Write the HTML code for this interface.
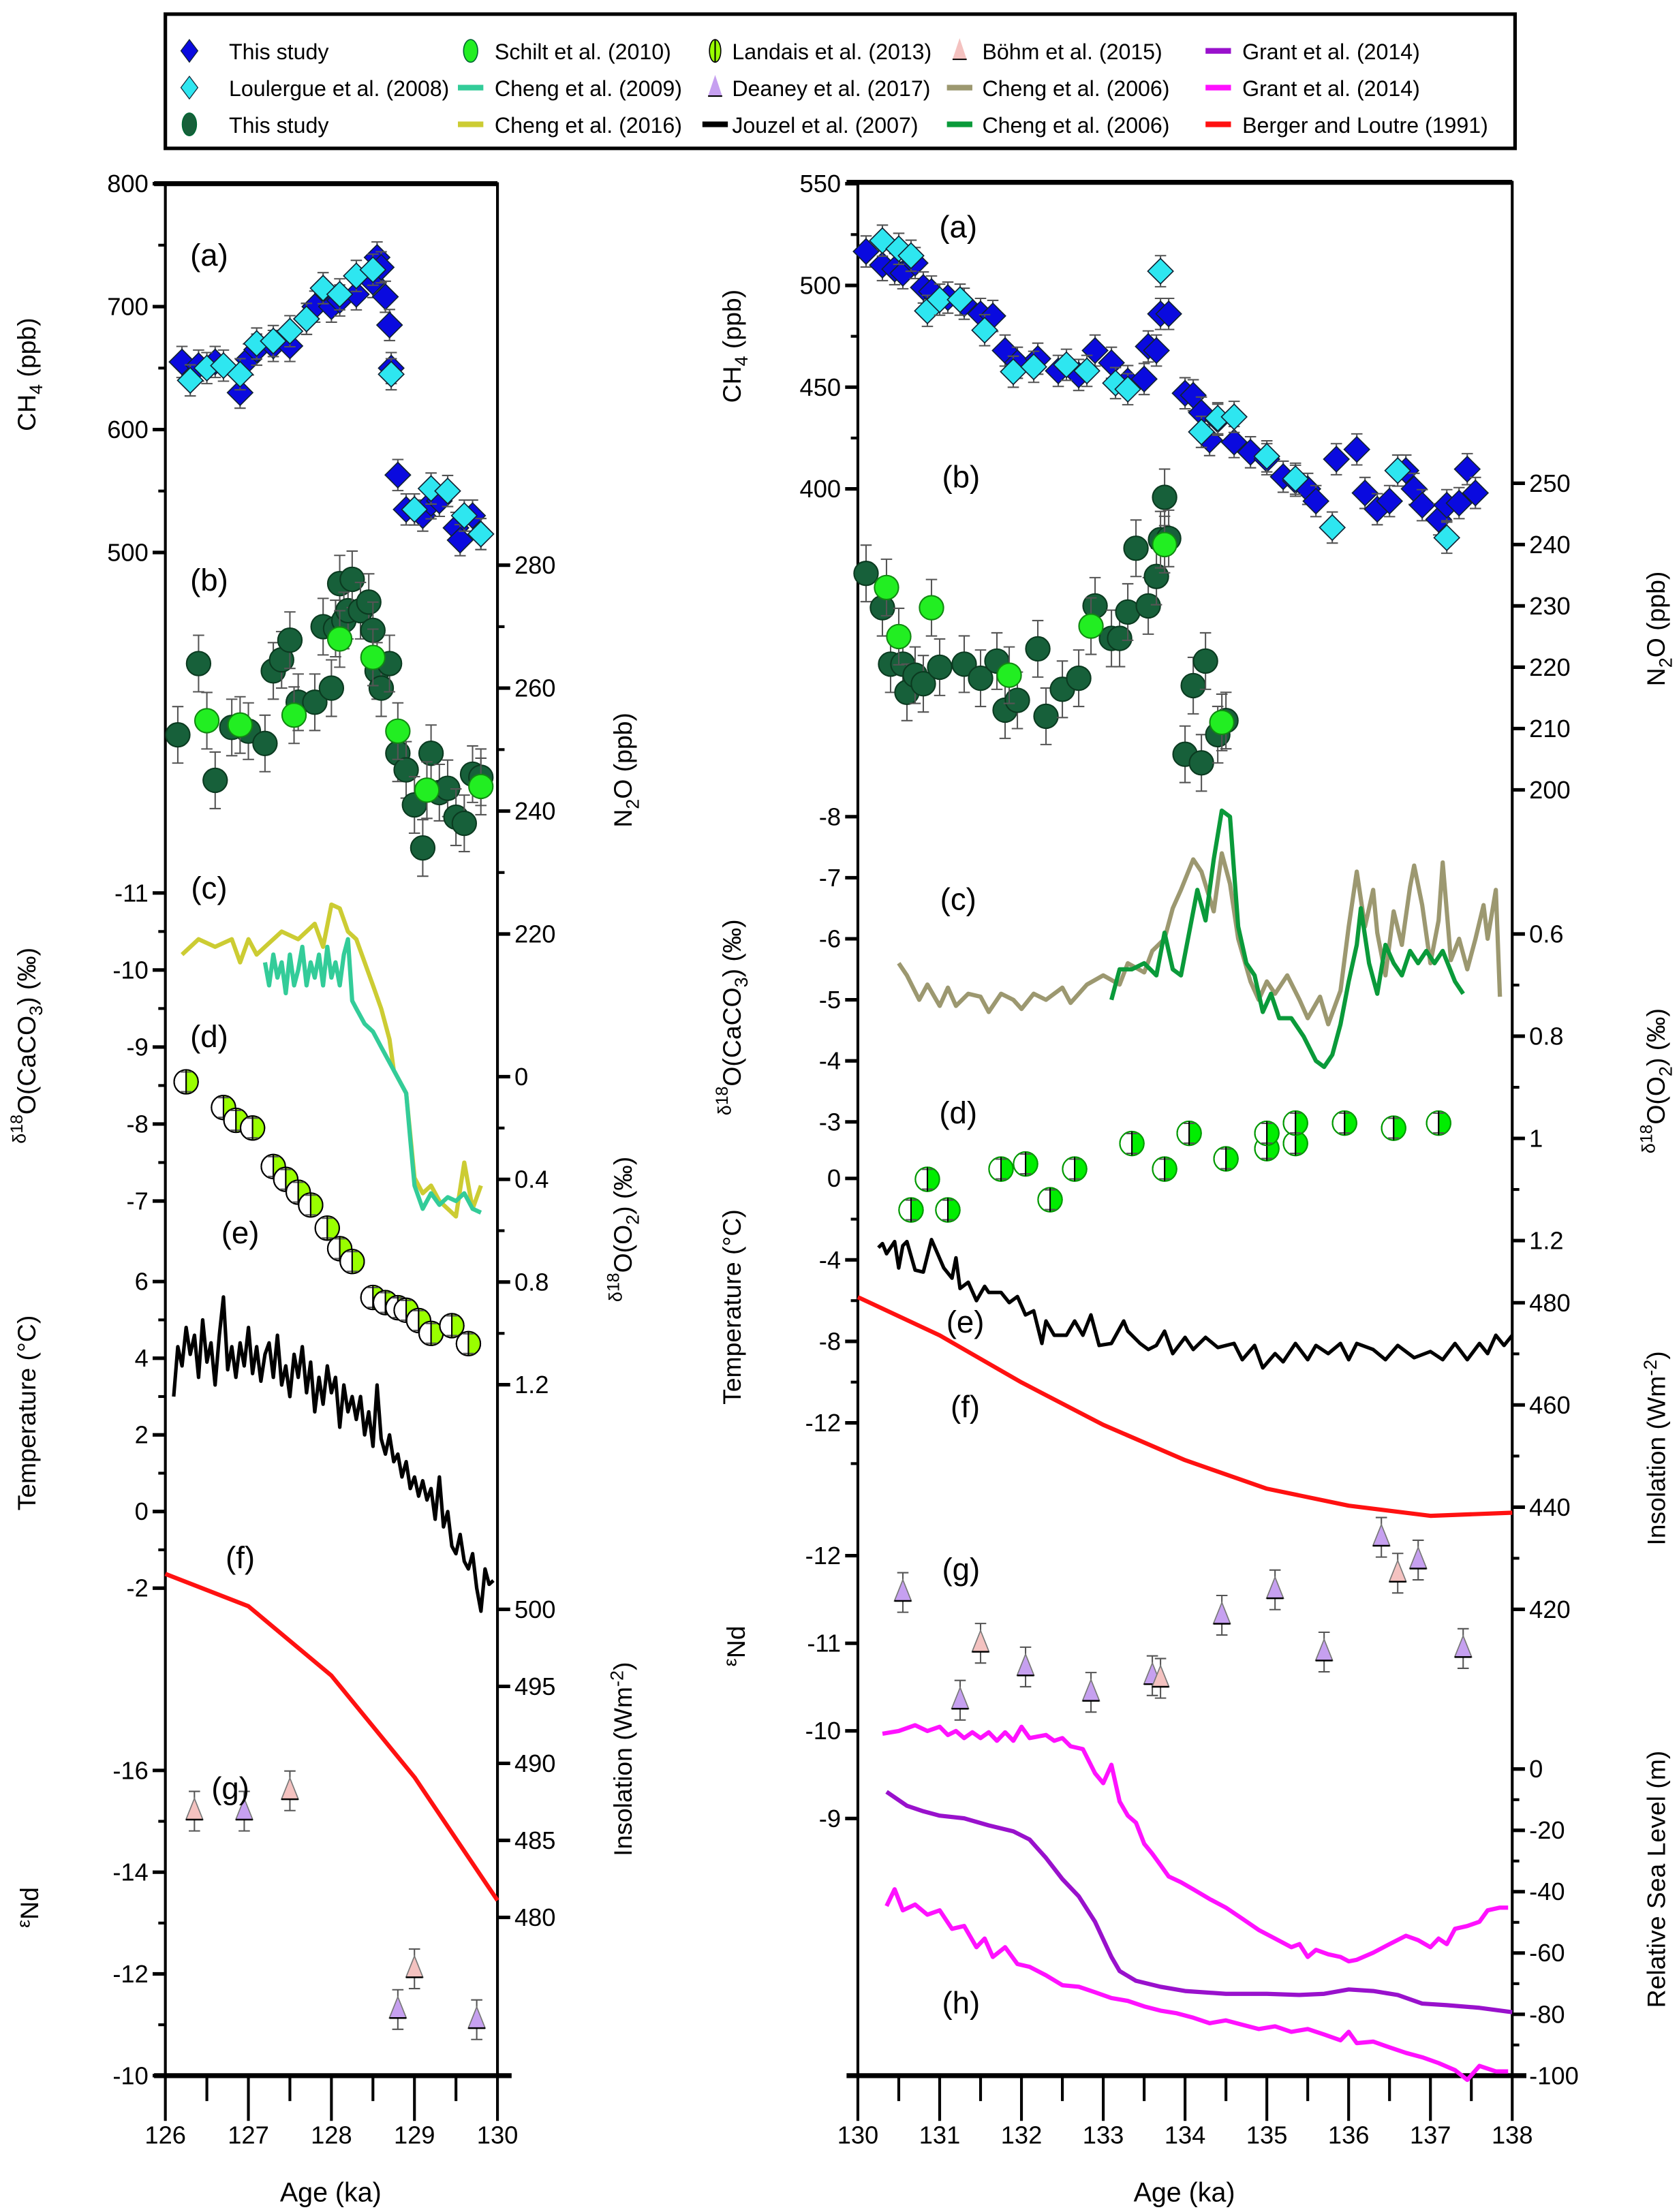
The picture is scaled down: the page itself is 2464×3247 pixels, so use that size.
<!DOCTYPE html>
<html><head><meta charset="utf-8"><title>Paleoclimate records chart</title>
<style>
html,body{margin:0;padding:0;background:#fff;}
svg{display:block;font-family:"Liberation Sans",Arial,sans-serif;}
</style></head>
<body>
<svg id="chart" xmlns="http://www.w3.org/2000/svg" width="2464" height="3247" viewBox="0 0 1188 1565.5">
<rect x="0" y="0" width="1188" height="1565.5" fill="#fff"/>
<g id="legend"></g>
<g id="frames"></g>
<g id="marks"></g>
<g id="labels"></g>
</svg>
<script>
// ===== LEFT PANEL DATA (126-130 ka) =====
const lCh4Age=[126.2,126.4,126.6,126.9,127.0,127.1,127.3,127.5,127.7,127.8,128.0,128.1,128.3,128.5,128.55,128.6,128.65,128.7,128.72,128.8,128.9,129.0,129.1,129.2,129.3,129.5,129.55,129.7,129.8];
const lCh4Val=[655,652,655,630,657,665,668,668,690,700,700,705,710,720,740,732,708,685,650,563,535,535,530,540,542,520,510,530,515];
const lLouAge=[126.3,126.5,126.7,126.9,127.1,127.3,127.5,127.7,127.9,128.1,128.3,128.5,128.72,129.0,129.2,129.4,129.6,129.8];
const lLouVal=[640,650,652,645,670,672,680,690,715,710,725,730,645,535,552,550,530,515];
const lN2oAge=[126.15,126.4,126.6,126.8,127.0,127.2,127.3,127.4,127.5,127.6,127.8,127.9,128.0,128.05,128.1,128.15,128.2,128.25,128.35,128.45,128.5,128.55,128.6,128.7,128.8,128.9,129.0,129.1,129.2,129.3,129.4,129.5,129.6,129.7,129.8];
const lN2oVal=[252.4,264,245,253.6,253,251,262.8,264.6,267.8,257.7,257.7,270,260,269.7,277,271,272.6,277.7,272.6,274,269.4,262.8,260,264,249.4,246.7,241,234,249.4,243,243.7,239,238,246,245.5];
const lSchAge=[126.5,126.9,127.55,128.1,128.5,128.8,129.15,129.8];
const lSchVal=[254.7,254,255.6,268,265,253,243.4,244];
const lC16Age=[126.2,126.4,126.6,126.8,126.9,127.0,127.1,127.2,127.4,127.6,127.8,127.9,128.0,128.1,128.2,128.3,128.5,128.6,128.7,128.75,128.9,129.0,129.1,129.2,129.3,129.5,129.6,129.7,129.8];
const lC16Val=[-10.2,-10.4,-10.3,-10.4,-10.1,-10.4,-10.2,-10.3,-10.5,-10.4,-10.6,-10.3,-10.85,-10.8,-10.5,-10.4,-9.8,-9.5,-9.1,-8.7,-8.4,-7.3,-7.1,-7.2,-7.0,-6.8,-7.5,-6.9,-7.2];
const lC09Age=[127.2,127.25,127.3,127.35,127.4,127.45,127.5,127.55,127.6,127.65,127.7,127.75,127.8,127.85,127.9,127.95,128.0,128.05,128.1,128.15,128.2,128.25,128.3,128.4,128.5,128.6,128.7,128.8,128.9,128.95,129.0,129.1,129.2,129.3,129.4,129.5,129.6,129.7,129.8];
const lC09Val=[-10.1,-9.8,-10.2,-9.9,-10.1,-9.7,-10.2,-9.8,-10.0,-10.3,-9.8,-10.1,-9.9,-10.2,-9.8,-10.3,-9.9,-10.1,-9.8,-10.2,-10.4,-9.6,-9.5,-9.3,-9.2,-9.0,-8.8,-8.6,-8.4,-7.8,-7.2,-6.9,-7.1,-6.95,-7.05,-7.0,-7.1,-6.9,-6.85];
const lLanAge=[126.25,126.7,126.85,127.05,127.3,127.45,127.6,127.75,127.95,128.1,128.25,128.5,128.65,128.8,128.9,129.05,129.2,129.45,129.65];
const lLanVal=[0.02,0.12,0.17,0.2,0.35,0.4,0.45,0.5,0.59,0.67,0.72,0.86,0.88,0.9,0.91,0.95,1.0,0.97,1.04];
const lTmpAge=[126.1,126.15,126.2,126.25,126.3,126.35,126.4,126.45,126.5,126.55,126.6,126.65,126.7,126.75,126.8,126.85,126.9,126.95,127.0,127.05,127.1,127.15,127.2,127.25,127.3,127.35,127.4,127.45,127.5,127.55,127.6,127.65,127.7,127.75,127.8,127.85,127.9,127.95,128.0,128.05,128.1,128.15,128.2,128.25,128.3,128.35,128.4,128.45,128.5,128.55,128.6,128.65,128.7,128.75,128.8,128.85,128.9,128.95,129.0,129.05,129.1,129.15,129.2,129.25,129.3,129.35,129.4,129.45,129.5,129.55,129.6,129.65,129.7,129.75,129.8,129.85,129.9,129.95];
const lTmpVal=[3.0,4.3,3.8,4.8,4.1,4.6,3.5,5.0,3.9,4.4,3.3,4.6,5.6,3.7,4.3,3.5,4.4,3.8,4.8,3.6,4.3,3.4,4.1,4.4,3.5,4.6,3.3,3.8,3.0,4.1,3.5,4.3,3.1,3.9,2.6,3.5,2.8,3.8,3.1,3.5,2.2,3.3,2.6,3.0,2.4,3.0,2.0,2.6,1.7,3.3,1.9,1.5,2.0,1.3,1.5,0.9,1.3,0.6,0.9,0.4,0.8,0.3,0.6,-0.2,0.9,-0.4,0,-0.9,-1.1,-0.6,-1.3,-1.5,-1.1,-2.0,-2.6,-1.5,-1.9,-1.8];
const lInsAge=[126,127,128,129,130];
const lInsVal=[502.3,500.2,495.7,489.1,481.1];
const lBohAge=[126.35,127.5,129.0];
const lBohVal=[-15.2,-15.6,-12.1];
const lDeaAge=[126.95,128.8,129.75];
const lDeaVal=[-15.2,-11.3,-11.1];

// ===== RIGHT PANEL DATA (130-138 ka) =====
const rCh4Age=[130.1,130.3,130.45,130.55,130.7,130.8,130.9,131.1,131.3,131.5,131.65,131.8,131.95,132.2,132.45,132.7,132.9,133.1,133.3,133.5,133.55,133.65,133.7,133.8,134.0,134.1,134.2,134.3,134.4,134.6,134.8,135.0,135.2,135.35,135.5,135.6,135.85,136.1,136.2,136.35,136.5,136.7,136.8,136.9,137.1,137.2,137.35,137.45,137.55];
const rCh4Val=[516.7,510,508,506,511,499,497,494,491,486,485,468,462,464,458,456,468,462,453,454,470,468,486,486,447,446,437.5,424,434,423,418,414.6,406,404,400,394,414.6,419.4,398,390,394,409,400,392,385,392,393,409.7,398];
const rLouAge=[130.3,130.5,130.65,130.85,131.0,131.25,131.55,131.9,132.15,132.55,132.8,133.15,133.3,133.7,134.2,134.4,134.6,135.0,135.35,135.8,136.6,137.2];
const rLouVal=[522,518,514.6,487.5,493,493,478,457.6,460,461,458,452,449,507,428,434.7,435.4,416,405,381,409,376];
const rN2oAge=[130.1,130.3,130.4,130.55,130.6,130.7,130.8,131.0,131.3,131.5,131.7,131.8,131.95,132.2,132.3,132.5,132.7,132.9,133.1,133.2,133.3,133.4,133.55,133.65,133.7,133.75,133.8,134.0,134.1,134.2,134.25,134.4,134.5];
const rN2oVal=[235.3,229.7,220.5,220.5,215.9,218.7,217.3,220,220.5,218.2,221,213,214.6,223,212,216.4,218.2,230,224.7,224.7,229,239.4,230,234.8,240.8,247.7,241,205.8,217,204.4,221,209,211.3];
const rSchAge=[130.35,130.5,130.9,131.85,132.85,133.75,134.45];
const rSchVal=[233,225,229.7,218.7,226.7,240,211];
const rTanAge=[130.5,130.6,130.75,130.85,131.0,131.1,131.2,131.35,131.5,131.6,131.75,131.9,132.0,132.15,132.3,132.5,132.6,132.8,133.0,133.2,133.3,133.5,133.6,133.75,133.85,133.95,134.1,134.2,134.35,134.45,134.55,134.65,134.8,134.9,135.0,135.1,135.25,135.4,135.5,135.65,135.75,135.9,136.0,136.1,136.2,136.3,136.35,136.45,136.55,136.65,136.75,136.8,136.9,137.0,137.1,137.15,137.25,137.35,137.45,137.55,137.65,137.7,137.8,137.85];
const rTanVal=[-5.6,-5.4,-5.0,-5.25,-4.9,-5.2,-4.9,-5.1,-5.05,-4.8,-5.1,-5.0,-4.85,-5.1,-5.0,-5.2,-4.95,-5.25,-5.4,-5.25,-5.6,-5.45,-5.8,-6.0,-6.5,-6.8,-7.3,-7.1,-6.45,-7.4,-6.9,-6.0,-5.3,-5.0,-5.3,-5.1,-5.4,-5.0,-4.7,-5.05,-4.6,-5.15,-6.2,-7.1,-6.2,-6.8,-6.1,-5.4,-6.45,-5.9,-6.85,-7.2,-6.55,-5.6,-6.3,-7.25,-5.65,-6.0,-5.5,-6.0,-6.55,-6.0,-6.8,-5.05];
const rGrnAge=[133.1,133.2,133.35,133.5,133.65,133.75,133.85,133.95,134.05,134.15,134.25,134.35,134.45,134.55,134.65,134.75,134.85,134.95,135.05,135.15,135.3,135.45,135.6,135.7,135.8,135.9,136.0,136.1,136.15,136.25,136.35,136.45,136.55,136.65,136.75,136.85,136.95,137.05,137.15,137.3,137.4];
const rGrnVal=[-5.0,-5.5,-5.5,-5.6,-5.4,-6.1,-5.5,-5.4,-6.1,-6.8,-6.3,-7.3,-8.1,-8.0,-6.2,-5.6,-5.4,-4.8,-5.1,-4.7,-4.7,-4.4,-4.0,-3.9,-4.1,-4.6,-5.3,-5.9,-6.5,-5.6,-5.1,-5.9,-5.6,-5.4,-5.8,-5.6,-5.8,-5.6,-5.8,-5.3,-5.1];
const rLanAge=[130.65,130.85,131.1,131.75,132.05,132.35,132.65,133.35,133.75,134.05,134.5,135.0,135.0,135.35,135.35,135.95,136.55,137.1];
const rLanVal=[1.14,1.08,1.14,1.06,1.05,1.12,1.06,1.01,1.06,0.99,1.04,1.02,0.99,1.01,0.97,0.97,0.98,0.97];
const rTmpAge=[130.25,130.3,130.35,130.45,130.5,130.55,130.6,130.7,130.8,130.9,131.05,131.15,131.2,131.25,131.35,131.45,131.55,131.6,131.75,131.85,131.95,132.05,132.15,132.25,132.3,132.4,132.55,132.65,132.75,132.85,132.95,133.1,133.25,133.3,133.45,133.55,133.65,133.75,133.85,134.0,134.1,134.25,134.4,134.6,134.7,134.85,134.95,135.1,135.2,135.35,135.5,135.6,135.75,135.9,136.0,136.1,136.3,136.45,136.6,136.8,137.0,137.15,137.3,137.45,137.6,137.7,137.8,137.9,138.0];
const rTmpVal=[-3.4,-3.2,-3.7,-3.1,-4.4,-3.3,-3.1,-4.5,-4.6,-3.0,-4.4,-4.9,-3.9,-5.4,-5.1,-6.0,-5.3,-5.6,-5.6,-6.1,-5.8,-6.7,-6.5,-8.1,-7.0,-7.7,-7.7,-7.0,-7.7,-6.7,-8.2,-8.1,-7.0,-7.5,-8.1,-8.4,-8.2,-7.5,-8.6,-7.8,-8.4,-7.8,-8.3,-8.1,-8.9,-8.2,-9.3,-8.6,-9.0,-8.1,-8.9,-8.2,-8.6,-8.1,-8.9,-8.1,-8.4,-8.9,-8.2,-8.8,-8.5,-8.9,-8.1,-8.9,-8.1,-8.6,-7.7,-8.2,-7.7];
const rInsAge=[130,131,132,133,134,135,136,137,138];
const rInsVal=[481.1,473.6,464.4,456.1,449.2,443.6,440.3,438.3,438.9];
const rDeaAge=[130.55,131.25,132.05,132.85,133.6,134.45,135.1,135.7,136.4,136.85,137.4];
const rDeaVal=[-11.58,-10.35,-10.73,-10.44,-10.63,-11.32,-11.61,-10.9,-12.21,-11.95,-10.94];
const rBohAge=[131.5,133.7,136.6];
const rBohVal=[-11.0,-10.6,-11.8];
const rSlUAge=[130.3,130.5,130.7,130.85,131.0,131.1,131.2,131.3,131.4,131.5,131.6,131.7,131.8,131.9,132.0,132.1,132.3,132.4,132.5,132.6,132.75,132.9,133.0,133.1,133.2,133.3,133.4,133.5,133.6,133.7,133.8,133.95,134.1,134.3,134.5,134.7,134.9,135.1,135.3,135.4,135.5,135.6,135.75,135.9,136.0,136.1,136.3,136.5,136.7,136.85,137.0,137.1,137.2,137.3,137.45,137.6,137.7,137.85,137.95];
const rSlUVal=[11.5,12.4,14.3,12.4,13.8,11.1,12.4,10.1,12.0,10.1,12.0,9.2,12.0,9.2,13.8,10.1,11.1,9.2,10.1,7.4,6.5,-1.4,-4.6,1.4,-10.6,-15.2,-17.5,-24.4,-27.6,-31.3,-35.0,-36.9,-39.2,-42.4,-45.2,-48.8,-52.5,-55.3,-58.1,-57.1,-61.3,-59.0,-60.4,-61.3,-62.7,-62.2,-59.9,-57.1,-54.4,-55.8,-58.1,-55.3,-57.1,-52.1,-51.2,-49.8,-46.1,-45.2,-45.2];
const rSlPAge=[130.35,130.6,130.8,131.0,131.3,131.6,131.9,132.1,132.3,132.5,132.7,132.9,133.1,133.2,133.4,133.7,134.0,134.5,135.0,135.4,135.7,136.0,136.3,136.6,136.9,137.2,137.6,138.0];
const rSlPVal=[-7.4,-12.0,-13.8,-15.2,-16.1,-18.4,-20.3,-23.0,-29.0,-35.9,-41.5,-49.8,-61.3,-65.9,-69.1,-71.0,-72.4,-73.3,-73.3,-73.7,-73.3,-71.9,-72.4,-73.7,-76.5,-77.0,-77.9,-79.3];
const rSlLAge=[130.35,130.45,130.55,130.7,130.85,131.0,131.15,131.3,131.45,131.55,131.65,131.8,131.95,132.1,132.3,132.5,132.7,132.9,133.1,133.3,133.5,133.7,133.9,134.1,134.3,134.5,134.7,134.9,135.1,135.3,135.5,135.7,135.9,136.0,136.1,136.3,136.5,136.7,136.9,137.1,137.3,137.45,137.6,137.8,137.95];
const rSlLVal=[-44.7,-39.2,-46.1,-44.2,-47.5,-46.1,-52.1,-51.2,-58.1,-55.3,-61.3,-58.1,-63.6,-64.5,-67.3,-70.5,-71.0,-72.8,-74.7,-75.6,-77.4,-78.8,-79.7,-81.1,-82.9,-82.0,-83.4,-84.8,-83.9,-85.7,-84.8,-86.6,-88.5,-85.7,-89.4,-88.9,-90.8,-92.6,-94.0,-95.9,-98.2,-101.4,-96.8,-98.6,-98.6];

// ===== helpers =====
const NS='http://www.w3.org/2000/svg';
function mk(tag,parent,attrs){const e=document.createElementNS(NS,tag);for(const k in attrs)e.setAttribute(k,attrs[k]);parent.appendChild(e);return e;}
function lin(v1,p1,v2,p2){return v=>p1+(v-v1)*(p2-p1)/(v2-v1);}
const gF=document.getElementById('frames'),gM=document.getElementById('marks'),gL=document.getElementById('labels'),gLeg=document.getElementById('legend');
const xL=lin(126,117,130,352), xR=lin(130,607,138,1070);
const yLch4=lin(800,130,500,391), yLn2o=lin(280,400,220,661), yLc=lin(-11,632,-7,850), yLo2=lin(0,762,1.2,980), yLt=lin(6,907,-2,1124), yLins=lin(500,1139,480,1357), yLnd=lin(-16,1253,-10,1469);
const yRch4=lin(550,130,400,346), yRn2o=lin(250,342,200,559), yRc=lin(-8,578,-3,794), yRo2=lin(0.6,661,1.2,878), yRt=lin(0,834,-12,1007), yRins=lin(480,922,420,1139), yRnd=lin(-12,1101,-9,1287), yRsl=lin(0,1252,-100,1469);

function text(parent,x,y,str,size,anchor,name,rot){
  const t=mk('text',parent,{x:x,y:y,'font-size':size,'text-anchor':anchor||'start',fill:'#000'});
  if(rot)t.setAttribute('transform','rotate(-90 '+x+' '+y+')');
  
  
  t.textContent=str;return t;
}
function frame(x0,x1,y0,y1,name){
  const r=mk('rect',gF,{x:x0,y:y0,width:x1-x0,height:y1-y0,fill:'none',stroke:'#000','stroke-width':2});
  
  
  mk('line',gF,{x1:x0-8,y1:y0,x2:x1,y2:y0,stroke:'#000','stroke-width':3.5});
  mk('line',gF,{x1:x0-8,y1:y1,x2:x1+10,y2:y1,stroke:'#000','stroke-width':3.5});
}
frame(117,352,130,1469,'left-panel-frame');
frame(607,1070,129,1469,'right-panel-frame');

function yaxis(side,xpos,scale,vals,minor,fmt,name){
  const dir=side==='left'?-1:1;
  minor.forEach(v=>{mk('line',gF,{x1:xpos,y1:scale(v),x2:xpos+dir*5,y2:scale(v),stroke:'#000','stroke-width':2});});
  vals.forEach(v=>{
    const y=scale(v);
    mk('line',gF,{x1:xpos,y1:y,x2:xpos+dir*9,y2:y,stroke:'#000','stroke-width':2.5});
    text(gF,side==='left'?xpos-12:xpos+12,y+6,fmt?fmt(v):String(v),17.5,side==='left'?'end':'start',name+'-tick-label');
  });
}
yaxis('left',117,yLch4,[800,700,600,500],[750,650,550],null,'left-ch4');
yaxis('left',117,yLc,[-11,-10,-9,-8,-7],[-10.5,-9.5,-8.5,-7.5],null,'left-d18o-caco3');
yaxis('left',117,yLt,[6,4,2,0,-2],[5,3,1,-1],null,'left-temperature');
yaxis('left',117,yLnd,[-16,-14,-12,-10],[-15,-13,-11],null,'left-end');
yaxis('right',352,yLn2o,[280,260,240,220],[270,250,230],null,'left-n2o');
yaxis('right',352,yLo2,[0,0.4,0.8,1.2],[0.2,0.6,1.0],v=>String(v),'left-d18o-o2');
yaxis('right',352,yLins,[500,495,490,485,480],[],null,'left-insolation');
yaxis('left',607,yRch4,[550,500,450,400],[525,475,425],null,'right-ch4');
yaxis('left',607,yRc,[-8,-7,-6,-5,-4,-3],[],null,'right-d18o-caco3');
yaxis('left',607,yRt,[0,-4,-8,-12],[-2,-6,-10,-14],null,'right-temperature');
yaxis('left',607,yRnd,[-12,-11,-10,-9],[],null,'right-end');
yaxis('right',1070,yRn2o,[250,240,230,220,210,200],[],null,'right-n2o');
yaxis('right',1070,yRo2,[0.6,0.8,1,1.2],[0.7,0.9,1.1],v=>String(v),'right-d18o-o2');
yaxis('right',1070,yRins,[480,460,440,420],[470,450,430],null,'right-insolation');
yaxis('right',1070,yRsl,[0,-20,-40,-60,-80,-100],[-10,-30,-50,-70,-90],null,'right-sea-level');
function xaxis(scale,a,b,name){
  for(let v=a;v<=b+1e-9;v+=0.5){
    const major=Math.abs(v-Math.round(v))<1e-6;
    mk('line',gF,{x1:scale(v),y1:1469,x2:scale(v),y2:1469+(major?32:18),stroke:'#000','stroke-width':2});
    if(major)text(gF,scale(v),1517,String(Math.round(v)),17.5,'middle',name+'-tick-label');
  }
}
xaxis(xL,126,130,'left-x');
xaxis(xR,130,138,'right-x');
text(gL,234,1558,'Age (ka)',19,'middle','left-x-axis-title');
text(gL,838,1558,'Age (ka)',19,'middle','right-x-axis-title');

function vtitle(x,y,html,name){
  const t=mk('text',gL,{x:x,y:y,'font-size':18,'text-anchor':'middle',fill:'#000',transform:'rotate(-90 '+x+' '+y+')'});
  
  
  t.innerHTML=html;
}
vtitle(25,265,'CH<tspan font-size="13" dy="5">4</tspan><tspan dy="-5"> (ppb)</tspan>','left-ch4-axis-title');
vtitle(25,740,'<tspan font-size="13" dy="-7">δ</tspan><tspan font-size="12" dy="-2">18</tspan><tspan dy="9">O(CaCO</tspan><tspan font-size="13" dy="5">3</tspan><tspan dy="-5">) (‰)</tspan>','left-d18o-caco3-axis-title');
vtitle(25,1000,'Temperature (°C)','left-temperature-axis-title');
vtitle(27,1350,'<tspan font-size="13" dy="-6">ε</tspan><tspan dy="6">Nd</tspan>','left-end-axis-title');
vtitle(447,545,'N<tspan font-size="13" dy="5">2</tspan><tspan dy="-5">O (ppb)</tspan>','left-n2o-axis-title');
vtitle(447,870,'<tspan font-size="13" dy="-7">δ</tspan><tspan font-size="12" dy="-2">18</tspan><tspan dy="9">O(O</tspan><tspan font-size="13" dy="5">2</tspan><tspan dy="-5">) (‰)</tspan>','left-d18o-o2-axis-title');
vtitle(447,1245,'Insolation (Wm<tspan font-size="13" dy="-6">-2</tspan><tspan dy="6">)</tspan>','left-insolation-axis-title');
vtitle(524,245,'CH<tspan font-size="13" dy="5">4</tspan><tspan dy="-5"> (ppb)</tspan>','right-ch4-axis-title');
vtitle(524,720,'<tspan font-size="13" dy="-7">δ</tspan><tspan font-size="12" dy="-2">18</tspan><tspan dy="9">O(CaCO</tspan><tspan font-size="13" dy="5">3</tspan><tspan dy="-5">) (‰)</tspan>','right-d18o-caco3-axis-title');
vtitle(524,925,'Temperature (°C)','right-temperature-axis-title');
vtitle(527,1165,'<tspan font-size="13" dy="-6">ε</tspan><tspan dy="6">Nd</tspan>','right-end-axis-title');
vtitle(1178,445,'N<tspan font-size="13" dy="5">2</tspan><tspan dy="-5">O (ppb)</tspan>','right-n2o-axis-title');
vtitle(1178,765,'<tspan font-size="13" dy="-7">δ</tspan><tspan font-size="12" dy="-2">18</tspan><tspan dy="9">O(O</tspan><tspan font-size="13" dy="5">2</tspan><tspan dy="-5">) (‰)</tspan>','right-d18o-o2-axis-title');
vtitle(1178,1025,'Insolation (Wm<tspan font-size="13" dy="-6">-2</tspan><tspan dy="6">)</tspan>','right-insolation-axis-title');
vtitle(1178,1330,'Relative Sea Level (m)','right-sea-level-axis-title');

[['(a)',148,188],['(b)',148,418],['(c)',148,636],['(d)',148,741],['(e)',170,880],['(f)',170,1110],['(g)',163,1273],
 ['(a)',678,168],['(b)',680,345],['(c)',678,644],['(d)',678,795],['(e)',683,943],['(f)',683,1003],['(g)',680,1118],['(h)',680,1425]]
 .forEach(p=>{text(gL,p[1],p[2],p[0],22,'middle','panel-label');});

function line(ages,vals,xs,ys,color,w,name){
  const d=ages.map((a,i)=>(i?'L':'M')+xs(a).toFixed(1)+' '+ys(vals[i]).toFixed(1)).join(' ');
  const p=mk('path',gM,{d:d,fill:'none',stroke:color,'stroke-width':w,'stroke-linejoin':'round'});
  
  
}
function errbar(g,x,y,h){
  mk('line',g,{x1:x,y1:y-h,x2:x,y2:y+h,stroke:'#555','stroke-width':1});
  mk('line',g,{x1:x-4,y1:y-h,x2:x+4,y2:y-h,stroke:'#555','stroke-width':1});
  mk('line',g,{x1:x-4,y1:y+h,x2:x+4,y2:y+h,stroke:'#555','stroke-width':1});
}
function diamonds(ages,vals,xs,ys,fill,name){
  ages.forEach((a,i)=>{const x=xs(a),y=ys(vals[i]);
    const g=mk('g',gM,{});
    
    
    errbar(g,x,y,11);
    mk('path',g,{d:`M${x} ${y-9}L${x+9} ${y}L${x} ${y+9}L${x-9} ${y}Z`,fill:fill,stroke:'#123','stroke-width':0.8});
  });
}
function circles(ages,vals,xs,ys,fill,stroke,name){
  ages.forEach((a,i)=>{const x=xs(a),y=ys(vals[i]);
    const g=mk('g',gM,{});
    
    
    errbar(g,x,y,20);
    mk('circle',g,{cx:x,cy:y,r:8.5,fill:fill,stroke:stroke,'stroke-width':1});
  });
}
function halfcircles(ages,vals,xs,ys,fill,stroke,name){
  ages.forEach((a,i)=>{const x=xs(a),y=ys(vals[i]);
    const g=mk('g',gM,{});
    
    
    mk('circle',g,{cx:x,cy:y,r:8.5,fill:'#fff',stroke:stroke,'stroke-width':1});
    mk('path',g,{d:`M${x} ${y-8.5}A8.5 8.5 0 0 1 ${x} ${y+8.5}Z`,fill:fill});
    mk('circle',g,{cx:x,cy:y,r:8.5,fill:'none',stroke:stroke,'stroke-width':1});
    errbar(g,x,y,7);
    mk('line',g,{x1:x,y1:y-8.5,x2:x,y2:y+8.5,stroke:'#000','stroke-width':1});
  });
}
function triangles(ages,vals,xs,ys,fill,name){
  ages.forEach((a,i)=>{const x=xs(a),y=ys(vals[i]);
    const g=mk('g',gM,{});
    
    
    errbar(g,x,y,14);
    mk('path',g,{d:`M${x} ${y-9}L${x+6} ${y+6}L${x-6} ${y+6}Z`,fill:fill,stroke:'#777','stroke-width':0.8});
    mk('line',g,{x1:x-6,y1:y+6,x2:x+6,y2:y+6,stroke:'#000','stroke-width':1.2});
  });
}
diamonds(lCh4Age,lCh4Val,xL,yLch4,'#0a0adf','left-ch4-this-study');
diamonds(lLouAge,lLouVal,xL,yLch4,'#2ee6f0','left-ch4-loulergue');
circles(lN2oAge,lN2oVal,xL,yLn2o,'#17603a','#0b3a20','left-n2o-this-study');
circles(lSchAge,lSchVal,xL,yLn2o,'#22ee22','#118811','left-n2o-schilt');
line(lC16Age,lC16Val,xL,yLc,'#cccc33',3,'left-cheng-2016-line');
line(lC09Age,lC09Val,xL,yLc,'#33cc99',3,'left-cheng-2009-line');
halfcircles(lLanAge,lLanVal,xL,yLo2,'#99ff00','#000','left-landais-2013');
line(lTmpAge,lTmpVal,xL,yLt,'#000',2.5,'left-jouzel-temperature-line');
line(lInsAge,lInsVal,xL,yLins,'#ff1111',3,'left-insolation-line');
triangles(lBohAge,lBohVal,xL,yLnd,'#f4c2c0','left-bohm-2015');
triangles(lDeaAge,lDeaVal,xL,yLnd,'#c6a0f0','left-deaney-2017');
diamonds(rCh4Age,rCh4Val,xR,yRch4,'#0a0adf','right-ch4-this-study');
diamonds(rLouAge,rLouVal,xR,yRch4,'#2ee6f0','right-ch4-loulergue');
circles(rN2oAge,rN2oVal,xR,yRn2o,'#17603a','#0b3a20','right-n2o-this-study');
circles(rSchAge,rSchVal,xR,yRn2o,'#22ee22','#118811','right-n2o-schilt');
line(rTanAge,rTanVal,xR,yRc,'#9c9870',3,'right-cheng-2006-tan-line');
line(rGrnAge,rGrnVal,xR,yRc,'#0a9a3a',3,'right-cheng-2006-green-line');
halfcircles(rLanAge,rLanVal,xR,yRo2,'#00ee00','#009900','right-landais-2013');
line(rTmpAge,rTmpVal,xR,yRt,'#000',2.5,'right-jouzel-temperature-line');
line(rInsAge,rInsVal,xR,yRins,'#ff1111',3,'right-insolation-line');
triangles(rDeaAge,rDeaVal,xR,yRnd,'#c6a0f0','right-deaney-2017');
triangles(rBohAge,rBohVal,xR,yRnd,'#f4c2c0','right-bohm-2015');
line(rSlUAge,rSlUVal,xR,yRsl,'#ff11ff',3,'right-grant-2014-upper-line');
line(rSlPAge,rSlPVal,xR,yRsl,'#9911cc',3,'right-grant-2014-purple-line');
line(rSlLAge,rSlLVal,xR,yRsl,'#ff11ff',3,'right-grant-2014-lower-line');

// ===== legend =====
const lb=mk('rect',gLeg,{x:117,y:10,width:955,height:95,fill:'#fff',stroke:'#000','stroke-width':2.5});


const legendEntries=[
 [0,0,'diamond','#0a0adf','This study'],[0,1,'diamond','#2ee6f0','Loulergue et al. (2008)'],[0,2,'circle','#17603a','This study'],
 [1,0,'circle','#22ee22','Schilt et al. (2010)'],[1,1,'line','#33cc99','Cheng et al. (2009)'],[1,2,'line','#cccc33','Cheng et al. (2016)'],
 [2,0,'half','#99ff00','Landais et al. (2013)'],[2,1,'tri','#c6a0f0','Deaney et al. (2017)'],[2,2,'line','#000','Jouzel et al. (2007)'],
 [3,0,'tri','#f4c2c0','Böhm et al. (2015)'],[3,1,'line','#9c9870','Cheng et al. (2006)'],[3,2,'line','#0a9a3a','Cheng et al. (2006)'],
 [4,0,'line','#9911cc','Grant et al. (2014)'],[4,1,'line','#ff11ff','Grant et al. (2014)'],[4,2,'line','#ff1111','Berger and Loutre (1991)']];
const colMarker=[134,333,506,679,862], colText=[162,350,518,695,879];
legendEntries.forEach(e=>{
  const g=mk('g',gLeg,{});
  
  
  const x=colMarker[e[0]], y=36+e[1]*26;
  if(e[2]==='diamond')mk('path',g,{d:`M${x} ${y-8}L${x+6} ${y}L${x} ${y+8}L${x-6} ${y}Z`,fill:e[3],stroke:'#123','stroke-width':0.6});
  else if(e[2]==='circle')mk('ellipse',g,{cx:x,cy:y,rx:5,ry:8,fill:e[3],stroke:'#063','stroke-width':0.8});
  else if(e[2]==='half'){mk('ellipse',g,{cx:x,cy:y,rx:4,ry:8,fill:e[3],stroke:'#000','stroke-width':0.8});mk('line',g,{x1:x,y1:y-8,x2:x,y2:y+8,stroke:'#000','stroke-width':1});}
  else if(e[2]==='tri'){mk('path',g,{d:`M${x} ${y-9}L${x+5} ${y+6}L${x-5} ${y+6}Z`,fill:e[3]});mk('line',g,{x1:x-5,y1:y+6,x2:x+5,y2:y+6,stroke:'#000','stroke-width':1});}
  else mk('line',g,{x1:x-9,y1:y,x2:x+9,y2:y,stroke:e[3],'stroke-width':4});
  text(g,colText[e[0]],y+6,e[4],15.5,'start','legend-label');
});
</script>
</body></html>
